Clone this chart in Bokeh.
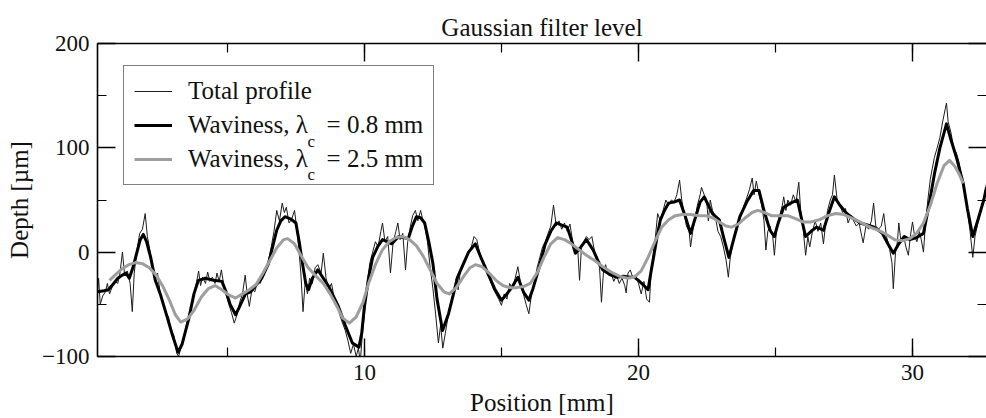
from bokeh.plotting import figure
from bokeh.models import (Range1d, LinearAxis, SingleIntervalTicker, Legend, LegendItem,
                          Label, BoxAnnotation, CustomJSTickFormatter)
from bokeh.embed import file_html
from bokeh.resources import INLINE

# Measured surface profile (position in mm, depth in µm)
profile_x = [
    0.26, 0.30, 0.36, 0.45, 0.55, 0.62, 0.70, 0.80, 0.90, 1.00, 1.08, 1.17, 1.25, 1.35, 1.45, 1.53,
    1.60, 1.70, 1.80, 1.90, 2.00, 2.08, 2.15, 2.25, 2.35, 2.45, 2.55, 2.65, 2.75, 2.85, 2.95, 3.05,
    3.15, 3.22, 3.30, 3.40, 3.50, 3.60, 3.70, 3.80, 3.88, 3.95, 4.02, 4.10, 4.20, 4.28, 4.36, 4.45,
    4.55, 4.62, 4.70, 4.78, 4.86, 4.95, 5.05, 5.15, 5.25, 5.35, 5.45, 5.55, 5.65, 5.72, 5.80, 5.90,
    6.00, 6.10, 6.20, 6.30, 6.40, 6.50, 6.60, 6.70, 6.80, 6.90, 7.00, 7.08, 7.15, 7.25, 7.35, 7.45,
    7.52, 7.60, 7.68, 7.76, 7.84, 7.92, 8.00, 8.10, 8.20, 8.30, 8.42, 8.50, 8.60, 8.70, 8.80, 8.90,
    9.00, 9.10, 9.20, 9.30, 9.40, 9.50, 9.60, 9.70, 9.78, 9.85, 9.92, 10.00, 10.10, 10.20, 10.30, 10.40,
    10.50, 10.60, 10.66, 10.75, 10.85, 10.95, 11.05, 11.15, 11.22, 11.30, 11.40, 11.50, 11.58, 11.68, 11.76, 11.86,
    11.95, 12.05, 12.12, 12.20, 12.30, 12.40, 12.50, 12.60, 12.70, 12.78, 12.86, 12.95, 13.05, 13.15, 13.25, 13.35,
    13.42, 13.50, 13.60, 13.70, 13.80, 13.90, 14.00, 14.10, 14.20, 14.30, 14.40, 14.50, 14.60, 14.70, 14.80, 14.90,
    15.00, 15.10, 15.20, 15.30, 15.40, 15.50, 15.60, 15.70, 15.80, 15.90, 16.00, 16.10, 16.20, 16.30, 16.40, 16.50,
    16.60, 16.70, 16.80, 16.90, 17.00, 17.10, 17.20, 17.30, 17.40, 17.50, 17.60, 17.70, 17.78, 17.85, 17.92, 18.00,
    18.10, 18.20, 18.30, 18.40, 18.50, 18.58, 18.65, 18.72, 18.80, 18.90, 19.00, 19.10, 19.20, 19.30, 19.40, 19.50,
    19.55, 19.62, 19.70, 19.80, 19.90, 20.00, 20.10, 20.20, 20.30, 20.40, 20.45, 20.55, 20.62, 20.70, 20.80, 20.90,
    21.00, 21.10, 21.20, 21.30, 21.40, 21.50, 21.58, 21.65, 21.75, 21.85, 21.90, 21.98, 22.05, 22.15, 22.25, 22.30,
    22.40, 22.50, 22.55, 22.62, 22.70, 22.80, 22.90, 23.00, 23.10, 23.20, 23.28, 23.35, 23.45, 23.55, 23.65, 23.75,
    23.85, 23.95, 24.05, 24.15, 24.22, 24.30, 24.40, 24.50, 24.58, 24.65, 24.72, 24.80, 24.90, 24.96, 25.05, 25.15,
    25.25, 25.30, 25.38, 25.45, 25.55, 25.65, 25.75, 25.85, 25.92, 26.00, 26.10, 26.18, 26.25, 26.35, 26.45, 26.55,
    26.65, 26.75, 26.82, 26.90, 27.00, 27.08, 27.15, 27.25, 27.35, 27.45, 27.55, 27.65, 27.75, 27.85, 27.95, 28.05,
    28.15, 28.20, 28.30, 28.40, 28.50, 28.58, 28.66, 28.76, 28.86, 28.95, 29.05, 29.15, 29.25, 29.30, 29.38, 29.45,
    29.50, 29.58, 29.68, 29.76, 29.85, 29.92, 30.00, 30.08, 30.16, 30.25, 30.32, 30.40, 30.48, 30.56, 30.65, 30.72,
    30.80, 30.90, 31.00, 31.10, 31.20, 31.24, 31.30, 31.40, 31.50, 31.60, 31.70, 31.80, 31.90, 32.00, 32.10, 32.20,
    32.28, 32.40, 32.50, 32.60, 32.70,
]
profile_y = [
    -38, -25, -50, -42, -38, -30, -40, -33, -28, -30, -20, 0, -22, -18, -30, -57,
    -20, 2, 18, 22, 37, 15, 5, -10, -28, -20, -40, -48, -58, -62, -75, -80,
    -97, -100, -92, -85, -70, -60, -50, -38, -28, -18, -32, -24, -30, -19, -28, -24,
    -30, -20, -28, -17, -30, -40, -50, -58, -68, -60, -48, -40, -22, -40, -52, -35,
    -38, -28, -30, -22, -18, -8, 5, 20, 40, 30, 47, 38, 43, 28, 32, 40,
    25, 5, -20, -57, -28, -40, -25, -30, -15, -12, -20, -1, -25, -35, -30, -45,
    -50, -60, -68, -75, -85, -97, -88, -100, -92, -105, -80, -60, -30, -10, 0, 10,
    5, 20, 28, 10, 15, -20, 10, 20, 28, 12, 18, -17, 10, 25, 35, 40,
    30, 40, 32, 25, 10, -15, -35, -60, -87, -70, -92, -78, -62, -48, -40, -25,
    -36, -18, -10, -5, 0, 5, 15, 12, 0, -8, -15, -20, -28, -35, -40, -45,
    -51, -40, -45, -30, -35, -25, -14, -30, -40, -50, -59, -40, -30, -15, -5, 5,
    10, 18, 25, 45, 25, 30, 22, 28, 20, 27, 10, 0, 5, -27, 5, 10,
    15, 12, 15, 0, -5, -15, -48, -20, -12, -22, -20, -28, -22, -30, -25, -32,
    -39, -20, -17, -25, -22, -30, -40, -28, -45, -48, -25, 0, 15, 37, 30, 40,
    50, 45, 50, 48, 55, 69, 50, 40, 25, 20, 5, 20, 30, 45, 55, 62,
    55, 45, 30, 50, 40, 35, 20, 15, 5, -8, -24, -5, 10, 20, 30, 35,
    45, 52, 60, 71, 55, 68, 55, 45, 30, 2, 20, 25, 15, -3, 25, 35,
    45, 53, 40, 50, 45, 55, 48, 67, 40, 25, -3, 15, 5, 20, 30, 20,
    28, 8, 25, 40, 50, 55, 74, 50, 45, 38, 42, 28, 35, 30, 25, 28,
    15, 9, 25, 22, 30, 47, 25, 22, 25, 37, 15, 5, -10, -35, 0, 10,
    28, 10, 15, 5, -3, 15, 29, 15, 10, 20, 12, 0, 30, 50, 70, 80,
    91, 100, 110, 125, 138, 143, 125, 115, 100, 95, 86, 70, 60, 40, 20, -5,
    15, 30, 40, 52, 66,
]

# Waviness, Gaussian cut-off 0.8 mm
wav08_x = [
    0.26, 0.50, 0.66, 0.85, 1.00, 1.17, 1.30, 1.42, 1.55, 1.70, 1.82, 1.93, 2.05, 2.20, 2.37, 2.55,
    2.80, 3.00, 3.20, 3.35, 3.58, 3.78, 3.94, 4.20, 4.50, 4.80, 4.95, 5.10, 5.30, 5.45, 5.66, 5.85,
    6.00, 6.25, 6.50, 6.65, 6.80, 6.95, 7.10, 7.30, 7.50, 7.62, 7.74, 7.86, 7.96, 8.10, 8.30, 8.50,
    8.70, 9.05, 9.30, 9.56, 9.80, 9.90, 10.00, 10.15, 10.30, 10.50, 10.66, 11.00, 11.25, 11.60, 11.75, 11.90,
    12.05, 12.20, 12.35, 12.50, 12.65, 12.85, 13.07, 13.25, 13.40, 13.60, 13.80, 14.05, 14.25, 14.50, 14.75, 15.00,
    15.20, 15.40, 15.60, 15.80, 16.00, 16.15, 16.35, 16.60, 16.80, 17.00, 17.20, 17.40, 17.55, 17.70, 17.90, 18.10,
    18.35, 18.55, 18.70, 19.00, 19.20, 19.45, 19.70, 19.85, 20.00, 20.20, 20.35, 20.45, 20.55, 20.68, 20.80, 20.95,
    21.10, 21.30, 21.50, 21.70, 21.90, 22.10, 22.25, 22.40, 22.55, 22.70, 22.95, 23.10, 23.30, 23.50, 23.70, 23.95,
    24.20, 24.40, 24.60, 24.80, 24.96, 25.10, 25.30, 25.55, 25.80, 25.95, 26.10, 26.30, 26.50, 26.75, 26.95, 27.15,
    27.35, 27.60, 27.85, 28.10, 28.35, 28.60, 28.90, 29.10, 29.30, 29.50, 29.70, 29.90, 30.15, 30.40, 30.60, 30.80,
    31.00, 31.24, 31.40, 31.60, 31.85, 32.00, 32.20, 32.40, 32.60, 32.70,
]
wav08_y = [
    -38, -37, -36, -30, -25, -22, -20, -25, -15, 0, 12, 17, 10, -5, -27, -40,
    -62, -80, -96, -88, -65, -40, -27, -25, -27, -28, -38, -50, -60, -52, -40, -38,
    -33, -25, -11, 5, 21, 30, 34, 32, 28, 10, -11, -30, -36, -25, -17, -25,
    -33, -52, -70, -87, -91, -78, -52, -25, -5, 6, 12, 8, 15, 13, 25, 34,
    33, 28, 10, -11, -45, -75, -59, -40, -24, -12, 0, 8, -5, -20, -35, -46,
    -40, -33, -24, -38, -46, -35, -17, 8, 20, 28, 26, 24, 12, -1, 5, 12,
    2, -10, -17, -22, -24, -23, -24, -24, -27, -32, -36, -20, -5, 15, 31, 40,
    47, 48, 50, 35, 18, 35, 48, 53, 45, 37, 31, 15, -5, 15, 34, 48,
    59, 59, 38, 21, 15, 28, 43, 47, 50, 32, 15, 20, 24, 21, 38, 53,
    45, 37, 32, 28, 26, 24, 18, 8, -1, 8, 15, 12, 14, 18, 45, 75,
    100, 123, 108, 91, 66, 42, 15, 32, 50, 62,
]

# Waviness, Gaussian cut-off 2.5 mm
wav25_x = [
    0.70, 0.90, 1.15, 1.40, 1.65, 1.90, 2.15, 2.40, 2.65, 2.90, 3.10, 3.30, 3.55, 3.80, 4.05, 4.30,
    4.55, 4.80, 5.05, 5.30, 5.55, 5.80, 6.05, 6.30, 6.55, 6.80, 7.05, 7.20, 7.45, 7.70, 7.95, 8.20,
    8.50, 8.75, 9.00, 9.20, 9.45, 9.70, 9.95, 10.15, 10.40, 10.65, 10.90, 11.15, 11.40, 11.65, 11.90, 12.15,
    12.40, 12.65, 12.90, 13.10, 13.35, 13.60, 13.85, 14.05, 14.30, 14.55, 14.80, 15.05, 15.30, 15.55,
    15.80, 16.05, 16.30, 16.55, 16.80, 17.05, 17.30, 17.55, 17.85, 18.10, 18.40, 18.70, 19.00, 19.30,
    19.60, 19.85, 20.10, 20.35, 20.60, 20.85, 21.10, 21.35, 21.60, 21.90, 22.20, 22.45, 22.70, 22.95,
    23.20, 23.40, 23.65, 23.90, 24.15, 24.35, 24.60, 24.85, 25.15, 25.45, 25.75, 26.00, 26.30, 26.60,
    26.90, 27.20, 27.50, 27.85, 28.15, 28.45, 28.75, 29.05, 29.35, 29.65, 29.90, 30.15, 30.40, 30.65,
    30.90, 31.15, 31.35, 31.55, 31.70, 31.85,
]
wav25_y = [
    -27, -22, -16, -12, -10, -11, -15, -22, -33, -47, -60, -67, -64, -55, -43, -35,
    -32, -36, -41, -44, -40, -36, -31, -20, -8, 4, 12, 13, 8, -4, -15, -22,
    -30, -40, -52, -63, -68, -62, -48, -30, -12, 2, 10, 14, 15, 12, 6, -4,
    -17, -30, -38, -40, -34, -24, -15, -12, -14, -20, -27, -32, -34, -34,
    -33, -30, -20, -5, 8, 14, 12, 8, 2, -3, -8, -14, -19, -23,
    -25, -24, -18, -5, 10, 24, 31, 35, 36, 36, 35, 35, 33, 29,
    25, 24, 27, 33, 38, 40, 38, 35, 35, 35, 32, 29, 29, 31,
    35, 37, 36, 32, 28, 24, 21, 17, 12, 11, 13, 18, 28, 45,
    66, 83, 88, 82, 75, 66,
]

SERIF = "Liberation Serif"
INK = "#111111"

p = figure(
    width=986, height=418,
    output_backend="svg", toolbar_location=None,
    x_range=Range1d(0.26, 32.7), y_range=Range1d(-100, 200),
    x_axis_type=None, y_axis_type=None,
    min_border_left=97, min_border_right=0, min_border_top=43, min_border_bottom=61,
    background_fill_color="white", border_fill_color="white",
)
p.outline_line_color = None
p.xgrid.visible = False
p.ygrid.visible = False

p.title.text = "Gaussian filter level"
p.title.align = "center"
p.title.text_font = SERIF
p.title.text_font_size = "25px"
p.title.text_font_style = "normal"
p.title.text_color = INK
p.title.standoff = 6

blank = CustomJSTickFormatter(code="return ''")


def style_axis(ax, labelled):
    ax.axis_line_color = "black"
    ax.axis_line_width = 1.6
    ax.major_tick_line_color = "black"
    ax.major_tick_line_width = 1.4
    ax.minor_tick_line_color = "black"
    ax.minor_tick_line_width = 1.2
    ax.major_tick_in = 18
    ax.major_tick_out = 0
    ax.minor_tick_in = 9
    ax.minor_tick_out = 0
    if labelled:
        ax.major_label_text_font = SERIF
        ax.major_label_text_font_size = "23px"
        ax.major_label_text_color = INK
        ax.major_label_standoff = 8
        ax.axis_label_text_font = SERIF
        ax.axis_label_text_font_size = "25px"
        ax.axis_label_text_font_style = "normal"
        ax.axis_label_text_color = INK
        ax.axis_label_standoff = 6
    else:
        ax.formatter = blank
        ax.major_label_standoff = 0


def x_ticker():
    return SingleIntervalTicker(interval=10, num_minor_ticks=2)


def y_ticker():
    return SingleIntervalTicker(interval=100, num_minor_ticks=2)


bottom = LinearAxis(ticker=x_ticker(), axis_label="Position [mm]")
style_axis(bottom, True)
p.add_layout(bottom, "below")

left = LinearAxis(ticker=y_ticker(), axis_label="Depth [µm]")
style_axis(left, True)
p.add_layout(left, "left")

top = LinearAxis(ticker=x_ticker())
style_axis(top, False)
p.add_layout(top, "above")

right = LinearAxis(ticker=y_ticker())
style_axis(right, False)
right.axis_line_alpha = 0
p.add_layout(right, "right")

r_total = p.line(profile_x, profile_y, line_color="#1c1c1c", line_width=1.0)
r_w08 = p.line(wav08_x, wav08_y, line_color="black", line_width=3.0, line_join="round")
r_w25 = p.line(wav25_x, wav25_y, line_color="#9e9e9e", line_width=3.0, line_join="round")

# opaque backing for the legend (legend itself is transparent so the
# subscripts drawn afterwards stay visible)
LEG_X, LEG_Y, LEG_W, LEG_H = 26, 171, 310, 118
p.add_layout(BoxAnnotation(left=LEG_X, right=LEG_X + LEG_W, bottom=LEG_Y, top=LEG_Y + LEG_H,
                           left_units="screen", right_units="screen",
                           bottom_units="screen", top_units="screen",
                           fill_color="white", fill_alpha=1.0, line_color=None))

legend = Legend(
    items=[
        LegendItem(label="Total profile", renderers=[r_total]),
        LegendItem(label="Waviness, λ\u2002 = 0.8 mm", renderers=[r_w08]),
        LegendItem(label="Waviness, λ\u2002 = 2.5 mm", renderers=[r_w25]),
    ],
    location=(LEG_X, LEG_Y),
    orientation="vertical",
    border_line_color="black",
    border_line_width=1.6,
    background_fill_alpha=0.0,
    label_text_font=SERIF,
    label_text_font_size="25px",
    label_text_color=INK,
    glyph_width=38,
    glyph_height=30,
    label_height=30,
    label_standoff=16,
    spacing=4,
    padding=10,
    margin=0,
)
p.add_layout(legend)

# subscript "c" on the cut-off wavelength symbol
for yy in (106, 74):
    p.add_layout(Label(x=7.92, y=yy, text="c", text_font=SERIF, text_font_size="17px",
                       text_color=INK, text_baseline="alphabetic"))

open("out.html", "w").write(file_html(p, INLINE))
